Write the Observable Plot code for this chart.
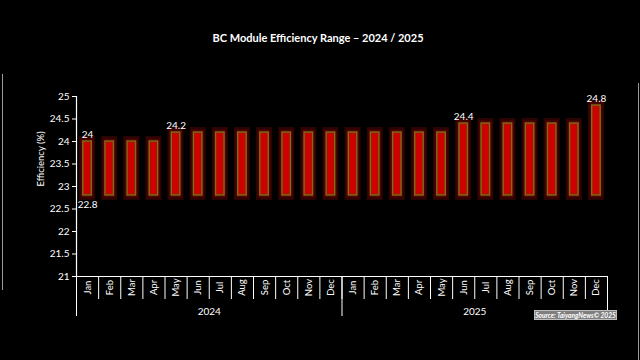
<!DOCTYPE html>
<html>
<head>
<meta charset="utf-8">
<script src="https://cdn.jsdelivr.net/npm/d3@7"></script>
<script src="https://cdn.jsdelivr.net/npm/@observablehq/plot@0.6"></script>
<style>
  html, body { margin: 0; padding: 0; background: #000; }
  #wrap { position: relative; width: 640px; height: 360px; background: #000; overflow: hidden; font-family: Lato, "Open Sans", sans-serif; }
  #wrap svg { position: absolute; left: 0; top: 0; }
  #title { position: absolute; left: 0; width: 636px; top: 31px; text-align: center; color: #fff; font-weight: bold; font-size: 11px; }
  #source { position: absolute; left: 534px; top: 310px; width: 83px; height: 10px; background: #7f7f7f; border: 1px solid #bdbdbd; box-sizing: border-box; color: #fff; font-size: 6.6px; font-weight: bold; font-style: italic; line-height: 8px; text-align: center; white-space: nowrap; }
  .edge { position: absolute; width: 1px; background: #9a9a9a; }
</style>
</head>
<body>
<div id="wrap">
  <div class="edge" style="left:2px; top:74px; height:216px;"></div>
  <div class="edge" style="left:638px; top:83px; height:277px;"></div>
  <div id="title">BC Module Efficiency Range – 2024 / 2025</div>
  <div id="source">Source: TaiyangNews© 2025</div>
</div>
<script>
const years = ["2024", "2025"];
const months = ["Jan","Feb","Mar","Apr","May","Jun","Jul","Aug","Sep","Oct","Nov","Dec"];
const minEfficiency = 22.8;
const maxEfficiency2024 = [24, 24, 24, 24, 24.2, 24.2, 24.2, 24.2, 24.2, 24.2, 24.2, 24.2];
const maxEfficiency2025 = [24.2, 24.2, 24.2, 24.2, 24.2, 24.4, 24.4, 24.4, 24.4, 24.4, 24.4, 24.8];
const yTicks = [21, 21.5, 22, 22.5, 23, 23.5, 24, 24.5, 25];

const maxSeries = [maxEfficiency2024, maxEfficiency2025];
const data = [];
years.forEach((yr, yi) => months.forEach((m, mi) => {
  data.push({i: yi * 12 + mi, year: yr, month: m, lo: minEfficiency, hi: maxSeries[yi][mi]});
}));
// label where the max changes
const labelled = data.filter((d, k) => k === 0 || d.hi !== data[k - 1].hi);
const boundaries = d3.range(0, data.length + 1);
const yearBounds = d3.range(0, data.length + 1, 12);
const yearCenters = years.map((y, yi) => ({year: y, c: yi * 12 + 6}));
const yMin = d3.min(yTicks);

const chart = Plot.plot({
  width: 640,
  height: 360,
  marginLeft: 76,
  marginRight: 33,
  marginTop: 96,
  marginBottom: 84,
  style: {background: "transparent", color: "#fff", fontFamily: "Lato, 'Open Sans', sans-serif", fontSize: "10px"},
  x: {domain: [0, data.length], axis: null},
  y: {domain: [yMin, d3.max(yTicks)], axis: null},
  marks: [
    // outer glow
    Plot.rectY(data, {x1: "i", x2: d => d.i + 1, y1: "lo", y2: "hi", fill: "#2a0303",
      insetLeft: 3, insetRight: 3, insetTop: -5, insetBottom: -5}),
    Plot.rectY(data, {x1: "i", x2: d => d.i + 1, y1: "lo", y2: "hi", fill: "#4a0202",
      insetLeft: 4.5, insetRight: 4.5, insetTop: -2.5, insetBottom: -2.5}),
    // main bar
    Plot.rectY(data, {x1: "i", x2: d => d.i + 1, y1: "lo", y2: "hi", fill: "#a81400",
      stroke: "#846a18", strokeWidth: 1.4, insetLeft: 6.8, insetRight: 6.8}),
    Plot.rectY(data, {x1: "i", x2: d => d.i + 1, y1: "lo", y2: "hi", fill: "#cf0000",
      insetLeft: 8.3, insetRight: 8.3, insetTop: 2, insetBottom: 2}),
    // value labels
    Plot.text(labelled, {x: d => d.i + 0.5, y: "hi", text: d => String(d.hi), fill: "#fff",
      lineAnchor: "bottom", dy: -4, fontSize: 10}),
    Plot.text(data.slice(0, 1), {x: d => d.i + 0.5, y: "lo", text: d => String(d.lo), fill: "#fff",
      lineAnchor: "top", dy: 5, fontSize: 10}),
    // y axis
    Plot.axisY({ticks: yTicks, tickSize: 4, tickPadding: 3, stroke: "#fff", fill: "#fff",
      tickFormat: d => String(d), label: null, fontSize: 10}),
    Plot.ruleX([0], {stroke: "#fff", strokeWidth: 1.2}),
    Plot.text(["Efficiency (%)"], {frameAnchor: "left", dx: -36, rotate: -90, fill: "#fff", fontSize: 9.5}),
    // x axis
    Plot.ruleY([yMin], {stroke: "#fff", strokeWidth: 1.2, insetLeft: -4}),
    Plot.ruleX(boundaries, {x: d => d, y1: yMin, y2: yMin, insetBottom: -23, stroke: "#fff", strokeWidth: 1}),
    Plot.ruleX(yearBounds, {x: d => d, y1: yMin, y2: yMin, insetBottom: -40, stroke: "#fff", strokeWidth: 1}),
    Plot.text(data, {x: d => d.i + 0.5, y: yMin, text: "month", rotate: -90, dy: 11,
      textAnchor: "middle", fill: "#fff", fontSize: 9.5}),
    Plot.text(yearCenters, {x: "c", y: yMin, text: "year", dy: 35, fill: "#fff", fontSize: 10})
  ]
});
document.getElementById("wrap").prepend(chart);
</script>
</body>
</html>
